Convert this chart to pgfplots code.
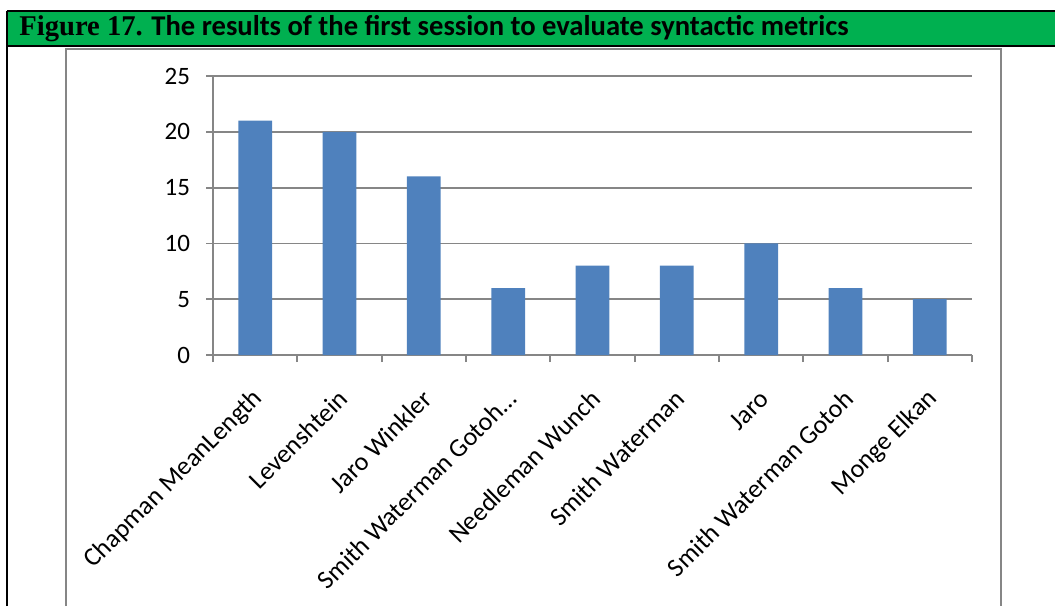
\documentclass[border=0pt]{standalone}
\usepackage{fontspec}
\setmainfont{Carlito}
\newfontfamily\figfont{Liberation Serif}
\usepackage{pgfplots}
\pgfplotsset{compat=1.18}
\definecolor{hdrgreen}{HTML}{00B050}
\definecolor{barblue}{HTML}{4F81BD}
\definecolor{axgray}{HTML}{868686}
\begin{document}
\begin{tikzpicture}[x=1pt,y=1pt]
\useasboundingbox (0,0) rectangle (527.5,303);
% header
\fill[hdrgreen] (3.5,280) rectangle (527.5,297.5);
\draw[black,line width=1.2pt] (3.5,297.5) -- (527.5,297.5);
\draw[black,line width=1.2pt] (3.5,280) -- (527.5,280);
\draw[black,line width=1.2pt] (3.5,0) -- (3.5,297.5);
\node[anchor=west,inner sep=0pt,font=\fontsize{14.3}{16}\selectfont\bfseries] at (9.5,288.5)
  {{\figfont Figure 17.} The results of the first session to evaluate syntactic metrics};
% chart frame
\draw[axgray,line width=1pt] (33,0) -- (33,278.5) -- (500.5,278.5) -- (500.5,0);
\begin{axis}[
  at={(106.5pt,125.5pt)}, anchor=south west,
  scale only axis, width=379.5pt, height=139.5pt,
  xmin=-0.5, xmax=8.5, ymin=0, ymax=25,
  axis x line*=bottom, axis y line*=left,
  axis line style={axgray, line width=0.9pt},
  ytick={0,5,10,15,20,25},
  ymajorgrids, grid style={axgray, line width=0.9pt},
  xtick={-0.5,0.5,...,8.5},
  xticklabels={},
  tick style={axgray, line width=0.9pt},
  extra x ticks={0,1,2,3,4,5,6,7,8},
  extra x tick labels={Chapman MeanLength,Levenshtein,Jaro Winkler,Smith Waterman Gotoh\ldots,Needleman Wunch,Smith Waterman,Jaro,Smith Waterman Gotoh,Monge Elkan},
  extra x tick style={major tick length=0pt, grid=none,
    xticklabel style={font=\fontsize{13}{15}\selectfont, yshift=-19pt, xshift=2.5pt, rotate=45, anchor=east, inner sep=1pt}},
  tick align=outside, major tick length=3.5pt,
  /pgf/number format/assume math mode=true,
  yticklabel style={font=\fontsize{12.5}{14}\selectfont, xshift=-4.5pt},
  enlargelimits=false,
]
\addplot[ybar, bar width=0.4, fill=barblue, draw=none] coordinates {
 (0,21) (1,20) (2,16) (3,6) (4,8) (5,8) (6,10) (7,6) (8,5)
};
\end{axis}
\end{tikzpicture}
\end{document}
